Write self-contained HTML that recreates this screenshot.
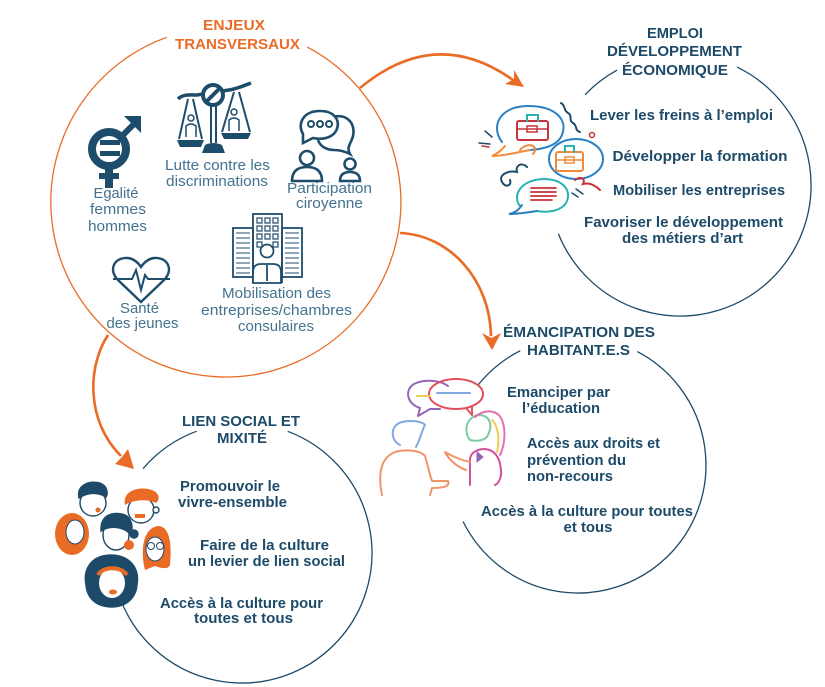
<!DOCTYPE html>
<html><head><meta charset="utf-8">
<style>
html,body{margin:0;padding:0;background:#fff;}
svg{display:block;}
.o{font-family:"Liberation Sans",sans-serif;font-weight:bold;font-size:15px;fill:#ea6b25;}
.h{font-family:"Liberation Sans",sans-serif;font-weight:bold;font-size:15px;fill:#1d4a68;}
.t{font-family:"Liberation Sans",sans-serif;font-weight:bold;font-size:14.5px;fill:#1d4a68;}
.l{font-family:"Liberation Sans",sans-serif;font-weight:normal;font-size:14.5px;fill:#44728f;}
</style></head>
<body>
<svg width="825" height="687" viewBox="0 0 825 687" xmlns="http://www.w3.org/2000/svg">
<rect width="825" height="687" fill="#fff"/>

<!-- circles -->
<g fill="none" stroke-width="1.3">
<path d="M307.3,47.1 A175,175 0 1 1 166.7,37.3" stroke="#ea6b25"/>
<path d="M585,94.8 A131,131 0 0 1 617.1,70.1" stroke="#1d4a68"/>
<path d="M737,67.1 A131,131 0 1 1 558.4,233.7" stroke="#1d4a68"/>
<path d="M477.7,385.5 A128,128 0 0 1 520.3,350.7" stroke="#1d4a68"/>
<path d="M637.3,351.6 A128,128 0 1 1 463.1,521.5" stroke="#1d4a68"/>
<path d="M143,468.7 A130,130 0 0 1 196.7,431.2" stroke="#1d4a68"/>
<path d="M287.7,431.3 A130,130 0 1 1 120.7,599.8" stroke="#1d4a68"/>
</g>

<!-- arrows -->
<g fill="none" stroke="#ea6b25" stroke-width="2.6">
<path d="M360,88 Q436,25 513,80"/>
<path d="M400,233 C450,235 490,280 491,336"/>
<path d="M108,335 C88,365 85,420 121,456"/>
</g>
<g fill="#ea6b25">
<polygon points="524,87 505,84 514,79 514,70"/>
<polygon points="492,350 482,333 491.5,338 501,333"/>
<polygon points="134,469 115,464 122,457 128,449"/>
</g>

<!-- titles -->
<text class="o" x="234" y="30" text-anchor="middle" textLength="62" lengthAdjust="spacingAndGlyphs">ENJEUX</text>
<text class="o" x="237.5" y="49" text-anchor="middle" textLength="125" lengthAdjust="spacingAndGlyphs">TRANSVERSAUX</text>

<text class="h" x="675" y="38" text-anchor="middle" textLength="56" lengthAdjust="spacingAndGlyphs">EMPLOI</text>
<text class="h" x="674.5" y="56" text-anchor="middle" textLength="135" lengthAdjust="spacingAndGlyphs">DÉVELOPPEMENT</text>
<text class="h" x="675" y="75" text-anchor="middle" textLength="106" lengthAdjust="spacingAndGlyphs">ÉCONOMIQUE</text>

<text class="h" x="579" y="337" text-anchor="middle" textLength="152" lengthAdjust="spacingAndGlyphs">ÉMANCIPATION DES</text>
<text class="h" x="578.5" y="355" text-anchor="middle" textLength="103" lengthAdjust="spacingAndGlyphs">HABITANT.E.S</text>

<text class="h" x="241" y="426" text-anchor="middle" textLength="118" lengthAdjust="spacingAndGlyphs">LIEN SOCIAL ET</text>
<text class="h" x="242" y="443" text-anchor="middle" textLength="50" lengthAdjust="spacingAndGlyphs">MIXITÉ</text>

<!-- top-right items -->
<text class="t" x="681.5" y="120" text-anchor="middle" textLength="183" lengthAdjust="spacingAndGlyphs">Lever les freins à l’emploi</text>
<text class="t" x="700" y="161" text-anchor="middle" textLength="175" lengthAdjust="spacingAndGlyphs">Développer la formation</text>
<text class="t" x="699" y="195" text-anchor="middle" textLength="172" lengthAdjust="spacingAndGlyphs">Mobiliser les entreprises</text>
<text class="t" x="683.5" y="227" text-anchor="middle" textLength="199" lengthAdjust="spacingAndGlyphs">Favoriser le développement</text>
<text class="t" x="682.5" y="243" text-anchor="middle" textLength="121" lengthAdjust="spacingAndGlyphs">des métiers d’art</text>

<!-- emancipation items -->
<text class="t" x="558.5" y="397" text-anchor="middle" textLength="103" lengthAdjust="spacingAndGlyphs">Emanciper par</text>
<text class="t" x="561" y="413" text-anchor="middle" textLength="78" lengthAdjust="spacingAndGlyphs">l’éducation</text>
<text class="t" x="527" y="448" textLength="133" lengthAdjust="spacingAndGlyphs">Accès aux droits et</text>
<text class="t" x="527" y="465" textLength="99" lengthAdjust="spacingAndGlyphs">prévention du</text>
<text class="t" x="527" y="481" textLength="86" lengthAdjust="spacingAndGlyphs">non-recours</text>
<text class="t" x="587" y="516" text-anchor="middle" textLength="212" lengthAdjust="spacingAndGlyphs">Accès à la culture pour toutes</text>
<text class="t" x="588" y="532" text-anchor="middle" textLength="49" lengthAdjust="spacingAndGlyphs">et tous</text>

<!-- lien social items -->
<text class="t" x="230" y="491" text-anchor="middle" textLength="100" lengthAdjust="spacingAndGlyphs">Promouvoir le</text>
<text class="t" x="232.5" y="507" text-anchor="middle" textLength="109" lengthAdjust="spacingAndGlyphs">vivre-ensemble</text>
<text class="t" x="264.5" y="550" text-anchor="middle" textLength="129" lengthAdjust="spacingAndGlyphs">Faire de la culture</text>
<text class="t" x="266.5" y="566" text-anchor="middle" textLength="157" lengthAdjust="spacingAndGlyphs">un levier de lien social</text>
<text class="t" x="241.5" y="608" text-anchor="middle" textLength="163" lengthAdjust="spacingAndGlyphs">Accès à la culture pour</text>
<text class="t" x="243.5" y="623" text-anchor="middle" textLength="99" lengthAdjust="spacingAndGlyphs">toutes et tous</text>

<!-- top-left light labels -->
<text class="l" x="116" y="198" text-anchor="middle" textLength="45" lengthAdjust="spacingAndGlyphs">Egalité</text>
<text class="l" x="118" y="214" text-anchor="middle" textLength="56" lengthAdjust="spacingAndGlyphs">femmes</text>
<text class="l" x="117.5" y="231" text-anchor="middle" textLength="59" lengthAdjust="spacingAndGlyphs">hommes</text>
<text class="l" x="217.5" y="170" text-anchor="middle" textLength="105" lengthAdjust="spacingAndGlyphs">Lutte contre les</text>
<text class="l" x="217" y="186" text-anchor="middle" textLength="102" lengthAdjust="spacingAndGlyphs">discriminations</text>
<text class="l" x="329.5" y="193" text-anchor="middle" textLength="85" lengthAdjust="spacingAndGlyphs">Participation</text>
<text class="l" x="329.5" y="208" text-anchor="middle" textLength="67" lengthAdjust="spacingAndGlyphs">ciroyenne</text>
<text class="l" x="276.5" y="298" text-anchor="middle" textLength="109" lengthAdjust="spacingAndGlyphs">Mobilisation des</text>
<text class="l" x="276.5" y="315" text-anchor="middle" textLength="151" lengthAdjust="spacingAndGlyphs">entreprises/chambres</text>
<text class="l" x="276" y="331" text-anchor="middle" textLength="76" lengthAdjust="spacingAndGlyphs">consulaires</text>
<text class="l" x="139.5" y="313" text-anchor="middle" textLength="39" lengthAdjust="spacingAndGlyphs">Santé</text>
<text class="l" x="142.5" y="328" text-anchor="middle" textLength="72" lengthAdjust="spacingAndGlyphs">des jeunes</text>

<!-- gender icon -->
<g fill="#1e4d6b" stroke="none">
<circle cx="109" cy="149" r="17" fill="none" stroke="#1e4d6b" stroke-width="8"/>
<rect x="100" y="140" width="20" height="5"/>
<rect x="100" y="151" width="20" height="5"/>
<line x1="120" y1="138" x2="135" y2="123" stroke="#1e4d6b" stroke-width="6"/>
<polygon points="124,116 141,116 141,133"/>
<rect x="105" y="165" width="8" height="23"/>
<rect x="99" y="173" width="20" height="6"/>
</g>

<!-- scales icon -->
<g fill="none" stroke="#1e4d6b" stroke-width="2">
<path d="M178,99 C183,94 190,95 197,95 L229,90 C236,89 243,86 251,83" stroke-width="3.5"/>
<path d="M211,106 L211,143 M216,106 L216,143"/>
<path d="M188,99 L179,139 M193,99 L202,139"/>
<path d="M234,92 L222,132 M239,92 L250,132"/>
<circle cx="191" cy="118" r="3" stroke-width="1.5"/>
<path d="M186,137 L186,126 Q191,122 196,126 L196,137" stroke-width="1.5"/>
<circle cx="234" cy="112" r="3" stroke-width="1.5"/>
<path d="M229,131 L229,120 Q234,116 239,120 L239,131" stroke-width="1.5"/>
<circle cx="213" cy="95" r="10" fill="#fff" stroke-width="4"/>
<path d="M206,102 L220,88" stroke-width="4"/>
</g>
<g fill="#1e4d6b">
<path d="M202,153 L205,145 Q213,141 222,145 L225,153 Z"/>
<path d="M177,140 L204,140 L201,147 L180,147 Z"/>
<path d="M221,133 L251,133 L248,139 L224,139 Z"/>
</g>

<!-- participation icon -->
<g fill="none" stroke="#1e4d6b" stroke-width="2.6">
<path d="M330,118 C345,112 356,122 353,136 C351,144 346,147 350,154 C344,151 340,150 334,150 C326,150 320,146 318,140"/>
<path d="M303,134 C297,124 303,111 320,111 C335,111 341,121 336,131 C332,138 322,140 313,138 L303,143 Z" fill="#fff"/>
<circle cx="311" cy="124" r="3" stroke-width="2"/>
<circle cx="320" cy="124" r="3" stroke-width="2"/>
<circle cx="329" cy="124" r="3" stroke-width="2"/>
<circle cx="307" cy="158" r="7"/>
<path d="M292,181 Q292,167 307,167 Q322,167 322,181 Z"/>
<circle cx="350" cy="164" r="5.5"/>
<path d="M340,181 Q340,172 350,172 Q360,172 360,181 Z"/>
</g>

<!-- building icon -->
<g fill="none" stroke="#1e4d6b" stroke-width="1.8">
<rect x="233" y="228" width="20" height="49"/>
<rect x="282" y="228" width="20" height="49"/>
<rect x="253" y="214" width="29" height="68"/>
<path d="M236,233H250M236,238H250M236,243H250M236,248H250M236,253H250M236,258H250M236,263H250M236,268H250M236,273H250" stroke-width="1.1"/>
<path d="M285,233H299M285,238H299M285,243H299M285,248H299M285,253H299M285,258H299M285,263H299M285,268H299M285,273H299" stroke-width="1.1"/>
<path d="M257,218h5v5h-5zM265,218h5v5h-5zM273,218h5v5h-5zM257,226h5v5h-5zM265,226h5v5h-5zM273,226h5v5h-5zM257,234h5v5h-5zM265,234h5v5h-5zM273,234h5v5h-5zM257,242h5v5h-5zM273,242h5v5h-5z" stroke-width="1.2"/>
<path d="M253,283 L253,272 Q253,264 261,264 L273,264 Q281,264 281,272 L281,283 Z" fill="#fff"/>
<circle cx="267" cy="251" r="6.5" fill="#fff"/>
<path d="M267,265 L267,281"/>
</g>

<!-- heart icon -->
<g fill="none" stroke="#1e4d6b" stroke-width="2.4">
<path d="M141,302 L118,280 C108,270 114,257 128,258 C135,259 139,264 141,267 C143,264 147,259 154,258 C168,257 174,270 164,280 Z"/>
<path d="M113,279 L132,279 L136,270 L141,290 L145,275 L148,279 L170,279" stroke-width="2"/>
</g>

<!-- top-right bubbles icon -->
<g fill="none" stroke-width="2" stroke-linecap="round">
<path d="M502,142 C490,126 500,106 528,106 C556,106 568,120 562,135 C558,145 545,149 530,150" stroke="#2b80c3"/>
<path d="M505,146 C500,152 496,154 492,156 C505,156 518,152 530,150 M520,150 C528,141 540,146 533,154" stroke="#f08a3c"/>
<rect x="517" y="121" width="31" height="19" rx="2" stroke="#c8323a"/>
<path d="M517,129 H548" stroke="#c8323a" stroke-width="1.5"/>
<rect x="527" y="126" width="10" height="6" stroke="#c8323a" stroke-width="1.5"/>
<path d="M527,121 L527,115 L538,115 L538,121" stroke="#2ab3b0"/>
<ellipse cx="576" cy="159" rx="27" ry="20" stroke="#2b80c3"/>
<rect x="556" y="152" width="27" height="19" rx="2" stroke="#f08a3c"/>
<path d="M556,160 H583" stroke="#f08a3c" stroke-width="1.5"/>
<rect x="565" y="157" width="9" height="6" stroke="#f08a3c" stroke-width="1.5"/>
<path d="M565,152 L565,146 L574,146 L574,152" stroke="#2ab3b0"/>
<path d="M520,206 C512,196 520,180 543,179 C565,179 572,192 566,203 C561,211 548,213 537,211" stroke="#2ab3b0"/>
<path d="M522,205 C518,211 514,213 509,214 C519,214 530,212 537,211" stroke="#2b80c3"/>
<path d="M531,188 H556 M531,192 H556 M531,196 H556 M531,200 H552" stroke="#c8323a" stroke-width="1.8"/>
<path d="M561,103 C566,106 563,110 568,113 C573,116 568,120 573,123 C578,126 574,130 580,132" stroke="#1d4a68"/>
<path d="M527,167 C522,162 515,165 517,172 C508,170 498,175 502,182 C505,188 512,186 510,180" stroke="#1d4a68"/>
<circle cx="592" cy="135" r="2.5" stroke="#c8323a" stroke-width="1.5"/>
<path d="M575,180 C580,176 586,178 583,184 C590,182 596,186 600,190" stroke="#c8323a"/>
<path d="M572,193 L578,197 M576,189 L583,194" stroke="#1d4a68" stroke-width="1.5"/>
<path d="M485,131 L492,137 M479,143 L490,144" stroke="#1d4a68" stroke-width="1.5"/>
<path d="M482,146 L489,147" stroke="#c8323a" stroke-width="1.5"/>
</g>

<!-- emancipation icon -->
<g fill="none" stroke-width="2" stroke-linecap="round" stroke-linejoin="round">
<path d="M420,408 C407,404 404,390 414,384 C424,379 440,380 448,386" stroke="#9366b8"/>
<path d="M420,408 L418,416 L430,409 L440,409" stroke="#9366b8"/>
<ellipse cx="456" cy="394" rx="27" ry="15" stroke="#e0505e"/>
<path d="M466,408 L472,415 L472,406" stroke="#e0505e"/>
<path d="M417,396 H430" stroke="#f3cc4a"/>
<path d="M437,393 H470" stroke="#7fa9e0"/>
<path d="M400,445 C390,440 390,425 402,422 C410,420 422,421 425,425 C422,430 420,440 416,447" stroke="#7fa9e0"/>
<path d="M382,495 C378,475 380,458 395,452 C405,449 420,450 425,456 C428,466 430,476 432,481 L448,481 C450,486 445,488 432,488 L430,495" stroke="#f19468"/>
<path d="M470,440 C462,430 468,415 480,415 C490,416 493,425 488,435 C486,440 478,442 470,440" stroke="#7ccba0"/>
<path d="M475,417 C482,410 497,408 502,420 C506,430 505,445 500,455" stroke="#e36fb3"/>
<path d="M492,420 C498,425 500,440 497,452" stroke="#f3cc4a"/>
<path d="M470,485 L470,460 C470,452 478,449 485,449 C495,450 500,458 501,470 C502,478 498,484 495,485" stroke="#d4509d"/>
<path d="M470,462 C462,460 455,458 445,452 C448,458 455,466 466,470" stroke="#f19468"/>
<path d="M477,452 L483,457 L477,462 Z" fill="#9366b8" stroke="#9366b8" stroke-width="1"/>
</g>

<!-- faces icon -->
<g stroke="#1d4a68" stroke-width="1.4">
<ellipse cx="93" cy="503" rx="13" ry="13" fill="#fff"/>
<path d="M79,498 C76,485 90,480 100,483 C108,486 108,494 106,497 C98,492 88,492 79,498 Z" fill="#1d4a68"/>
<circle cx="98" cy="510" r="2.5" fill="#ea6b25" stroke="none"/>
<ellipse cx="141" cy="510" rx="13" ry="13" fill="#fff"/>
<circle cx="156" cy="510" r="3" fill="#fff"/>
<path d="M125,505 C122,490 140,486 152,490 C160,493 160,500 156,503 C148,499 135,499 125,505 Z" fill="#ea6b25" stroke="none"/>
<rect x="135" y="514" width="10" height="4" fill="#ea6b25" stroke="none"/>
<ellipse cx="72" cy="534" rx="17" ry="21" fill="#ea6b25" stroke="none"/>
<ellipse cx="75" cy="532" rx="9" ry="12" fill="#fff" stroke-width="1"/>
<ellipse cx="116" cy="535" rx="13" ry="15" fill="#fff"/>
<path d="M101,531 C100,515 112,512 122,514 C132,516 134,528 130,534 C125,528 112,524 101,531 Z" fill="#1d4a68"/>
<circle cx="134" cy="534" r="4" fill="#1d4a68"/>
<circle cx="129" cy="545" r="5" fill="#ea6b25" stroke="none"/>
<path d="M145,570 C140,550 143,528 158,526 C170,526 172,545 170,565 C168,570 160,568 155,566 Z" fill="#ea6b25" stroke="none"/>
<ellipse cx="155" cy="549" rx="9" ry="12" fill="#fff" stroke-width="1"/>
<circle cx="151" cy="546" r="3.5" fill="none" stroke-width="1"/>
<circle cx="160" cy="546" r="3.5" fill="none" stroke-width="1"/>
<path d="M86,585 C83,570 90,556 110,555 C130,555 140,568 137,585 C136,598 126,607 112,607 C96,607 87,598 86,585 Z" fill="#1d4a68"/>
<ellipse cx="112" cy="583" rx="13" ry="15" fill="#fff" stroke="none"/>
<path d="M98,575 C103,566 121,566 127,575" fill="none" stroke="#ea6b25" stroke-width="4"/>
<ellipse cx="113" cy="592" rx="4" ry="2.5" fill="#ea6b25" stroke="none"/>
</g>
</svg>
</body></html>
